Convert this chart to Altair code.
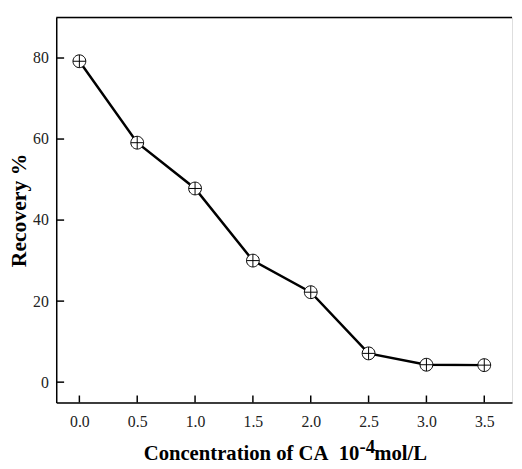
import altair as alt
import pandas as pd

conc = [0.0, 0.5, 1.0, 1.5, 2.0, 2.5, 3.0, 3.5]
recovery = [79.2, 59.1, 47.8, 30.0, 22.2, 7.1, 4.3, 4.2]
x_ticks = [0.0, 0.5, 1.0, 1.5, 2.0, 2.5, 3.0, 3.5]
y_ticks = [0, 20, 40, 60, 80]
x_title_parts = ["Concentration of CA\u00a0\u00a010", "-4", "mol/L"]
y_title = "Recovery %"

W, H = 463, 391
FONT = "Liberation Serif"

df = pd.DataFrame({"conc": conc, "rec": recovery})
xt = pd.DataFrame({"t": x_ticks})
yt = pd.DataFrame({"t": y_ticks})

xscale = alt.Scale(domain=[-0.2, 3.74], nice=False, zero=False)
yscale = alt.Scale(domain=[-5, 90], nice=False, zero=False)

xaxis = alt.Axis(values=x_ticks, format=".1f", ticks=False, tickSize=0, grid=False,
                 domainColor="black", domainWidth=1.5, labelFont=FONT, labelFontSize=16,
                 labelColor="#222", labelPadding=11, title=None)
yaxis = alt.Axis(values=y_ticks, ticks=False, tickSize=0, grid=False,
                 domainColor="black", domainWidth=1.5, labelFont=FONT, labelFontSize=16,
                 labelColor="#222", labelPadding=8,
                 title=y_title, titleFont=FONT, titleFontSize=22,
                 titleFontWeight="bold", titleColor="black", titlePadding=2)

line = alt.Chart(df).mark_line(color="black", strokeWidth=2.5).encode(
    x=alt.X("conc:Q", scale=xscale, axis=xaxis),
    y=alt.Y("rec:Q", scale=yscale, axis=yaxis),
)

marker = "M-1,0A1,1,0,1,1,1,0A1,1,0,1,1,-1,0M-1,0L1,0M0,-1L0,1"
points = alt.Chart(df).mark_point(shape=marker, filled=False, fill="white", fillOpacity=1,
                                  stroke="black", strokeWidth=1, size=169, opacity=1).encode(
    x=alt.X("conc:Q", scale=xscale),
    y=alt.Y("rec:Q", scale=yscale),
)

xticks = alt.Chart(xt).mark_rule(color="black", strokeWidth=1.5).encode(
    x=alt.X("t:Q", scale=xscale),
    y=alt.value(H - 7),
    y2=alt.value(H),
)
yticks = alt.Chart(yt).mark_rule(color="black", strokeWidth=1.5).encode(
    y=alt.Y("t:Q", scale=yscale),
    x=alt.value(0),
    x2=alt.value(8),
)
top = alt.Chart(pd.DataFrame({"a": [0]})).mark_rule(color="black", strokeWidth=1.5).encode(
    x=alt.value(0), x2=alt.value(W), y=alt.value(0)
)

t1 = alt.Chart(pd.DataFrame({"s": [x_title_parts[0]]})).mark_text(
    font=FONT, fontSize=21, fontWeight="bold", align="right", baseline="alphabetic", color="black"
).encode(text="s:N", x=alt.value(308), y=alt.value(H + 59))
t2 = alt.Chart(pd.DataFrame({"s": [x_title_parts[1]]})).mark_text(
    font=FONT, fontSize=19, fontWeight="bold", align="left", baseline="alphabetic", color="black"
).encode(text="s:N", x=alt.value(308), y=alt.value(H + 51))
t3 = alt.Chart(pd.DataFrame({"s": [x_title_parts[2]]})).mark_text(
    font=FONT, fontSize=21, fontWeight="bold", align="left", baseline="alphabetic", color="black"
).encode(text="s:N", x=alt.value(323), y=alt.value(H + 59))

chart = alt.layer(xticks, yticks, top, line, points, t1, t2, t3).properties(
    width=W, height=H,
    autosize=alt.AutoSizeParams(type="none"),
    padding={"left": 49, "top": 6, "right": 2, "bottom": 64},
).configure_view(stroke=None).configure(background="white")

chart.save("out.html", embed_options={"renderer": "svg", "actions": False})
